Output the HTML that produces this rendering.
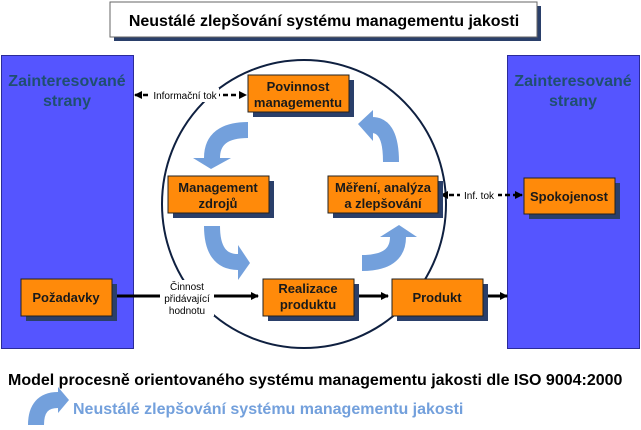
<!DOCTYPE html>
<html><head><meta charset="utf-8"><style>
body{margin:0;width:641px;height:425px;background:#fff;overflow:hidden}
svg text{font-family:"Liberation Sans",Arial,sans-serif}
</style></head><body>
<svg width="641" height="425" viewBox="0 0 641 425" xmlns="http://www.w3.org/2000/svg">
<defs>
<marker id="ah" markerWidth="8" markerHeight="8" refX="7" refY="4" orient="auto" markerUnits="userSpaceOnUse"><path d="M0,0 L8,4 L0,8 Z" fill="#000"/></marker>
<marker id="dh" markerWidth="8" markerHeight="8" refX="7" refY="4" orient="auto-start-reverse" markerUnits="userSpaceOnUse"><path d="M0,0 L8,4 L0,8 Z" fill="#000"/></marker>
</defs>
<rect x="114" y="6" width="427" height="35" fill="#2a3f6a"/>
<rect x="110" y="2" width="427" height="35" fill="#fff" stroke="#666" stroke-width="1"/>
<text x="324" y="26" font-size="16" font-weight="bold" text-anchor="middle">Neustálé zlepšování systému managementu jakosti</text>
<rect x="1.5" y="55.5" width="132" height="293" fill="#5555ff" stroke="#2b2b99"/>
<rect x="507.5" y="55.5" width="132" height="293" fill="#5555ff" stroke="#2b2b99"/>
<text x="67" y="86" font-size="16" font-weight="bold" fill="#1f4f70" text-anchor="middle">Zainteresované</text>
<text x="67" y="106" font-size="16" font-weight="bold" fill="#1f4f70" text-anchor="middle">strany</text>
<text x="573" y="86" font-size="16" font-weight="bold" fill="#1f4f70" text-anchor="middle">Zainteresované</text>
<text x="573" y="106" font-size="16" font-weight="bold" fill="#1f4f70" text-anchor="middle">strany</text>
<ellipse cx="304" cy="204" rx="142" ry="144" fill="none" stroke="#0f2040" stroke-width="2"/>
<g fill="none" stroke="#73a0dc" stroke-width="16">
<path d="M248,130 Q212,130 212,158"/>
<path d="M391,162 Q391,125 372,125"/>
<path d="M212,226 Q212,262 238,262"/>
<path d="M362,263 Q398,263 398,237"/>
</g>
<g fill="#73a0dc">
<polygon points="193,158 231,158 211,169"/>
<polygon points="373,110 373,141 358,124"/>
<polygon points="238,245 238,280 250,263"/>
<polygon points="380,237 417,237 399,225"/>
</g>
<g stroke="#000" stroke-width="3" fill="none">
<line x1="112" y1="296" x2="258" y2="296" marker-end="url(#ah)"/>
<line x1="354" y1="296" x2="388" y2="296" marker-end="url(#ah)"/>
<line x1="483" y1="296" x2="507" y2="296" marker-end="url(#ah)"/>
</g>
<rect x="160" y="280" width="54" height="36" fill="#fff"/>
<text x="187" y="290" font-size="10" text-anchor="middle">Činnost</text>
<text x="187" y="302" font-size="10" text-anchor="middle">přidávající</text>
<text x="187" y="314" font-size="10" text-anchor="middle">hodnotu</text>
<g stroke="#000" stroke-width="2.5" stroke-dasharray="5,3" fill="none">
<line x1="135" y1="95" x2="246" y2="95" marker-start="url(#dh)" marker-end="url(#dh)"/>
<line x1="441" y1="195" x2="522" y2="195" marker-start="url(#dh)" marker-end="url(#dh)"/>
</g>
<rect x="151" y="88" width="68" height="14" fill="#fff"/>
<text x="185" y="99" font-size="10" text-anchor="middle">Informační tok</text>
<rect x="460" y="188" width="38" height="14" fill="#fff"/>
<text x="479" y="199" font-size="10" text-anchor="middle">Inf. tok</text>
<g stroke="#222" stroke-width="1">
<rect x="253" y="80" width="101" height="37" fill="#2a3f6a" stroke="none"/>
<rect x="248" y="75" width="101" height="37" fill="#ff8a0a"/>
<rect x="173" y="181" width="101" height="37" fill="#2a3f6a" stroke="none"/>
<rect x="168" y="176" width="101" height="37" fill="#ff8a0a"/>
<rect x="333" y="181" width="110" height="37" fill="#2a3f6a" stroke="none"/>
<rect x="328" y="176" width="110" height="37" fill="#ff8a0a"/>
<rect x="529" y="183" width="91" height="36" fill="#2a3f6a" stroke="none"/>
<rect x="524" y="178" width="91" height="36" fill="#ff8a0a"/>
<rect x="26" y="284" width="91" height="37" fill="#2a3f6a" stroke="none"/>
<rect x="21" y="279" width="91" height="37" fill="#ff8a0a"/>
<rect x="268" y="284" width="91" height="37" fill="#2a3f6a" stroke="none"/>
<rect x="263" y="279" width="91" height="37" fill="#ff8a0a"/>
<rect x="397" y="284" width="91" height="37" fill="#2a3f6a" stroke="none"/>
<rect x="392" y="279" width="91" height="37" fill="#ff8a0a"/>
</g>
<g font-size="13" font-weight="bold" text-anchor="middle" fill="#1a1a1a">
<text x="298" y="91">Povinnost</text><text x="298" y="107">managementu</text>
<text x="218" y="192">Management</text><text x="218" y="208">zdrojů</text>
<text x="383" y="192">Měření, analýza</text><text x="383" y="208">a zlepšování</text>
<text x="569" y="201">Spokojenost</text>
<text x="66" y="302">Požadavky</text>
<text x="308" y="293">Realizace</text><text x="308" y="309">produktu</text>
<text x="437" y="302">Produkt</text>
</g>
<text x="8" y="385" font-size="16" font-weight="bold">Model procesně orientovaného systému managementu jakosti dle ISO 9004:2000</text>
<path d="M36,425 Q36,400 58,400" fill="none" stroke="#73a0dc" stroke-width="16"/>
<polygon points="58,387 58,413 69,400" fill="#73a0dc"/>
<text x="73" y="414" font-size="16" font-weight="bold" fill="#73a0dc">Neustálé zlepšování systému managementu jakosti</text>
</svg>
</body></html>
